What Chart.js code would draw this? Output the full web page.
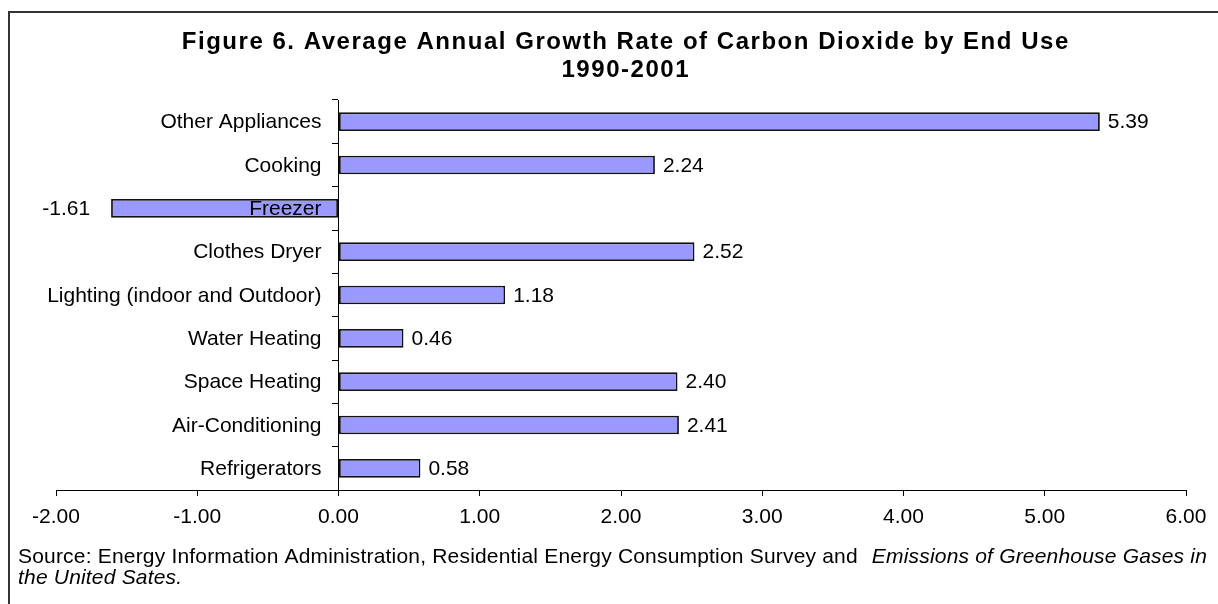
<!DOCTYPE html>
<html><head><meta charset="utf-8">
<script src="https://cdn.jsdelivr.net/npm/chart.js@4.4.1/dist/chart.umd.min.js"></script>
<style>html,body{margin:0;padding:0;background:#fff;overflow:hidden}
#wrap{position:relative;width:1218px;height:604px}</style></head>
<body><div id="wrap"><canvas id="c" width="1218" height="604"></canvas></div>
<script>
const categories = ["Other Appliances","Cooking","Freezer","Clothes Dryer","Lighting (indoor and Outdoor)","Water Heating","Space Heating","Air-Conditioning","Refrigerators"];
const growthRates = [5.39, 2.24, -1.61, 2.52, 1.18, 0.46, 2.40, 2.41, 0.58];
const titleLines = ["Figure 6. Average Annual Growth Rate of Carbon Dioxide by End Use", "1990-2001"];
const sourcePlain = "Source: Energy Information Administration, Residential Energy Consumption Survey and ";
const sourceItalic1 = "Emissions of Greenhouse Gases in";
const sourceItalic2 = "the United Sates.";
const xMin = -2, xMax = 6, xStep = 1;

const FONT = "'Liberation Sans', Arial, sans-serif";

const decor = {
  id: 'decor',
  beforeDraw(chart) {
    const ctx = chart.ctx;
    ctx.save();
    ctx.fillStyle = '#fff';
    ctx.fillRect(0, 0, chart.width, chart.height);
    ctx.strokeStyle = '#333';
    ctx.lineWidth = 2;
    ctx.strokeRect(9, 12, 1300, 700);
    ctx.restore();
  },
  afterDatasetsDraw(chart) {
    const ctx = chart.ctx;
    const meta = chart.getDatasetMeta(0);
    const xs = chart.scales.x, ys = chart.scales.y;
    const zeroX = xs.getPixelForValue(0);
    ctx.save();
    ctx.fillStyle = '#000';
    ctx.textBaseline = 'middle';
    ctx.font = "21px " + FONT;
    // category labels next to the zero axis (drawn over bars, like the original)
    ctx.textAlign = 'right';
    categories.forEach((c, i) => {
      ctx.fillText(c, zeroX - 17, ys.getPixelForValue(i) + 1);
    });
    // value labels
    meta.data.forEach((el, i) => {
      const v = growthRates[i];
      const t = v.toFixed(2);
      if (v >= 0) { ctx.textAlign = 'left'; ctx.fillText(t, el.x + 8, el.y + 1); }
      else { ctx.textAlign = 'right'; ctx.fillText(t, el.x - 21, el.y + 1); }
    });
    ctx.restore();
  },
  afterDraw(chart) {
    const ctx = chart.ctx;
    ctx.save();
    ctx.fillStyle = '#000';
    ctx.textBaseline = 'alphabetic';
    // title, spaced to the original's width
    ctx.textAlign = 'left';
    ctx.font = "bold 24px " + FONT;
    ctx.letterSpacing = '0px';
    const tw = ctx.measureText(titleLines[0]).width;
    const ls = (888 - tw) / titleLines[0].length;
    ctx.letterSpacing = ls + 'px';
    titleLines.forEach((t, k) => {
      const w = ctx.measureText(t).width - ls;
      ctx.fillText(t, 625 - w / 2, k === 0 ? 49 : 77);
    });
    // source note
    ctx.letterSpacing = '0px';
    ctx.font = "21px " + FONT;
    const wp = ctx.measureText(sourcePlain).width;
    ctx.font = "italic 21px " + FONT;
    const wi = ctx.measureText(sourceItalic1).width;
    const gap = 8;
    const n = sourcePlain.length + sourceItalic1.length;
    const sls = (1189 - (wp + gap + wi)) / n;
    ctx.letterSpacing = sls + 'px';
    ctx.font = "21px " + FONT;
    ctx.fillText(sourcePlain, 18, 563);
    const wp2 = ctx.measureText(sourcePlain).width;
    ctx.font = "italic 21px " + FONT;
    ctx.fillText(sourceItalic1, 18 + wp2 + gap, 563);
    ctx.fillText(sourceItalic2, 18, 584);
    ctx.restore();
  }
};

new Chart(document.getElementById('c'), {
  type: 'bar',
  data: {
    labels: categories,
    datasets: [{
      data: growthRates,
      backgroundColor: '#9999ff',
      borderColor: '#111',
      borderWidth: 1.8,
      borderSkipped: false,
      barPercentage: 0.43,
      categoryPercentage: 1
    }]
  },
  options: {
    indexAxis: 'y',
    responsive: false,
    devicePixelRatio: 1,
    animation: false,
    layout: { padding: { top: 100, left: 56, right: 32, bottom: 0 } },
    plugins: { legend: { display: false }, title: { display: false }, tooltip: { enabled: false } },
    scales: {
      x: {
        type: 'linear', min: xMin, max: xMax,
        grid: { drawOnChartArea: false, drawTicks: true, tickLength: 6, color: '#000', lineWidth: 1 },
        border: { display: true, color: '#000', width: 1 },
        ticks: { stepSize: xStep, color: '#000', font: { family: FONT, size: 21 }, padding: 9,
          callback: v => Number(v).toFixed(2) },
        afterFit(scale) { scale.height = 114; }
      },
      y: {
        type: 'category',
        position: { x: 0 },
        grid: { drawOnChartArea: false, drawTicks: true, tickLength: 6, color: '#000', offset: true, z: 1 },
        border: { display: true, color: '#000', width: 1, z: 1 },
        ticks: { display: false, autoSkip: false }
      }
    }
  },
  plugins: [decor]
});
</script></body></html>
